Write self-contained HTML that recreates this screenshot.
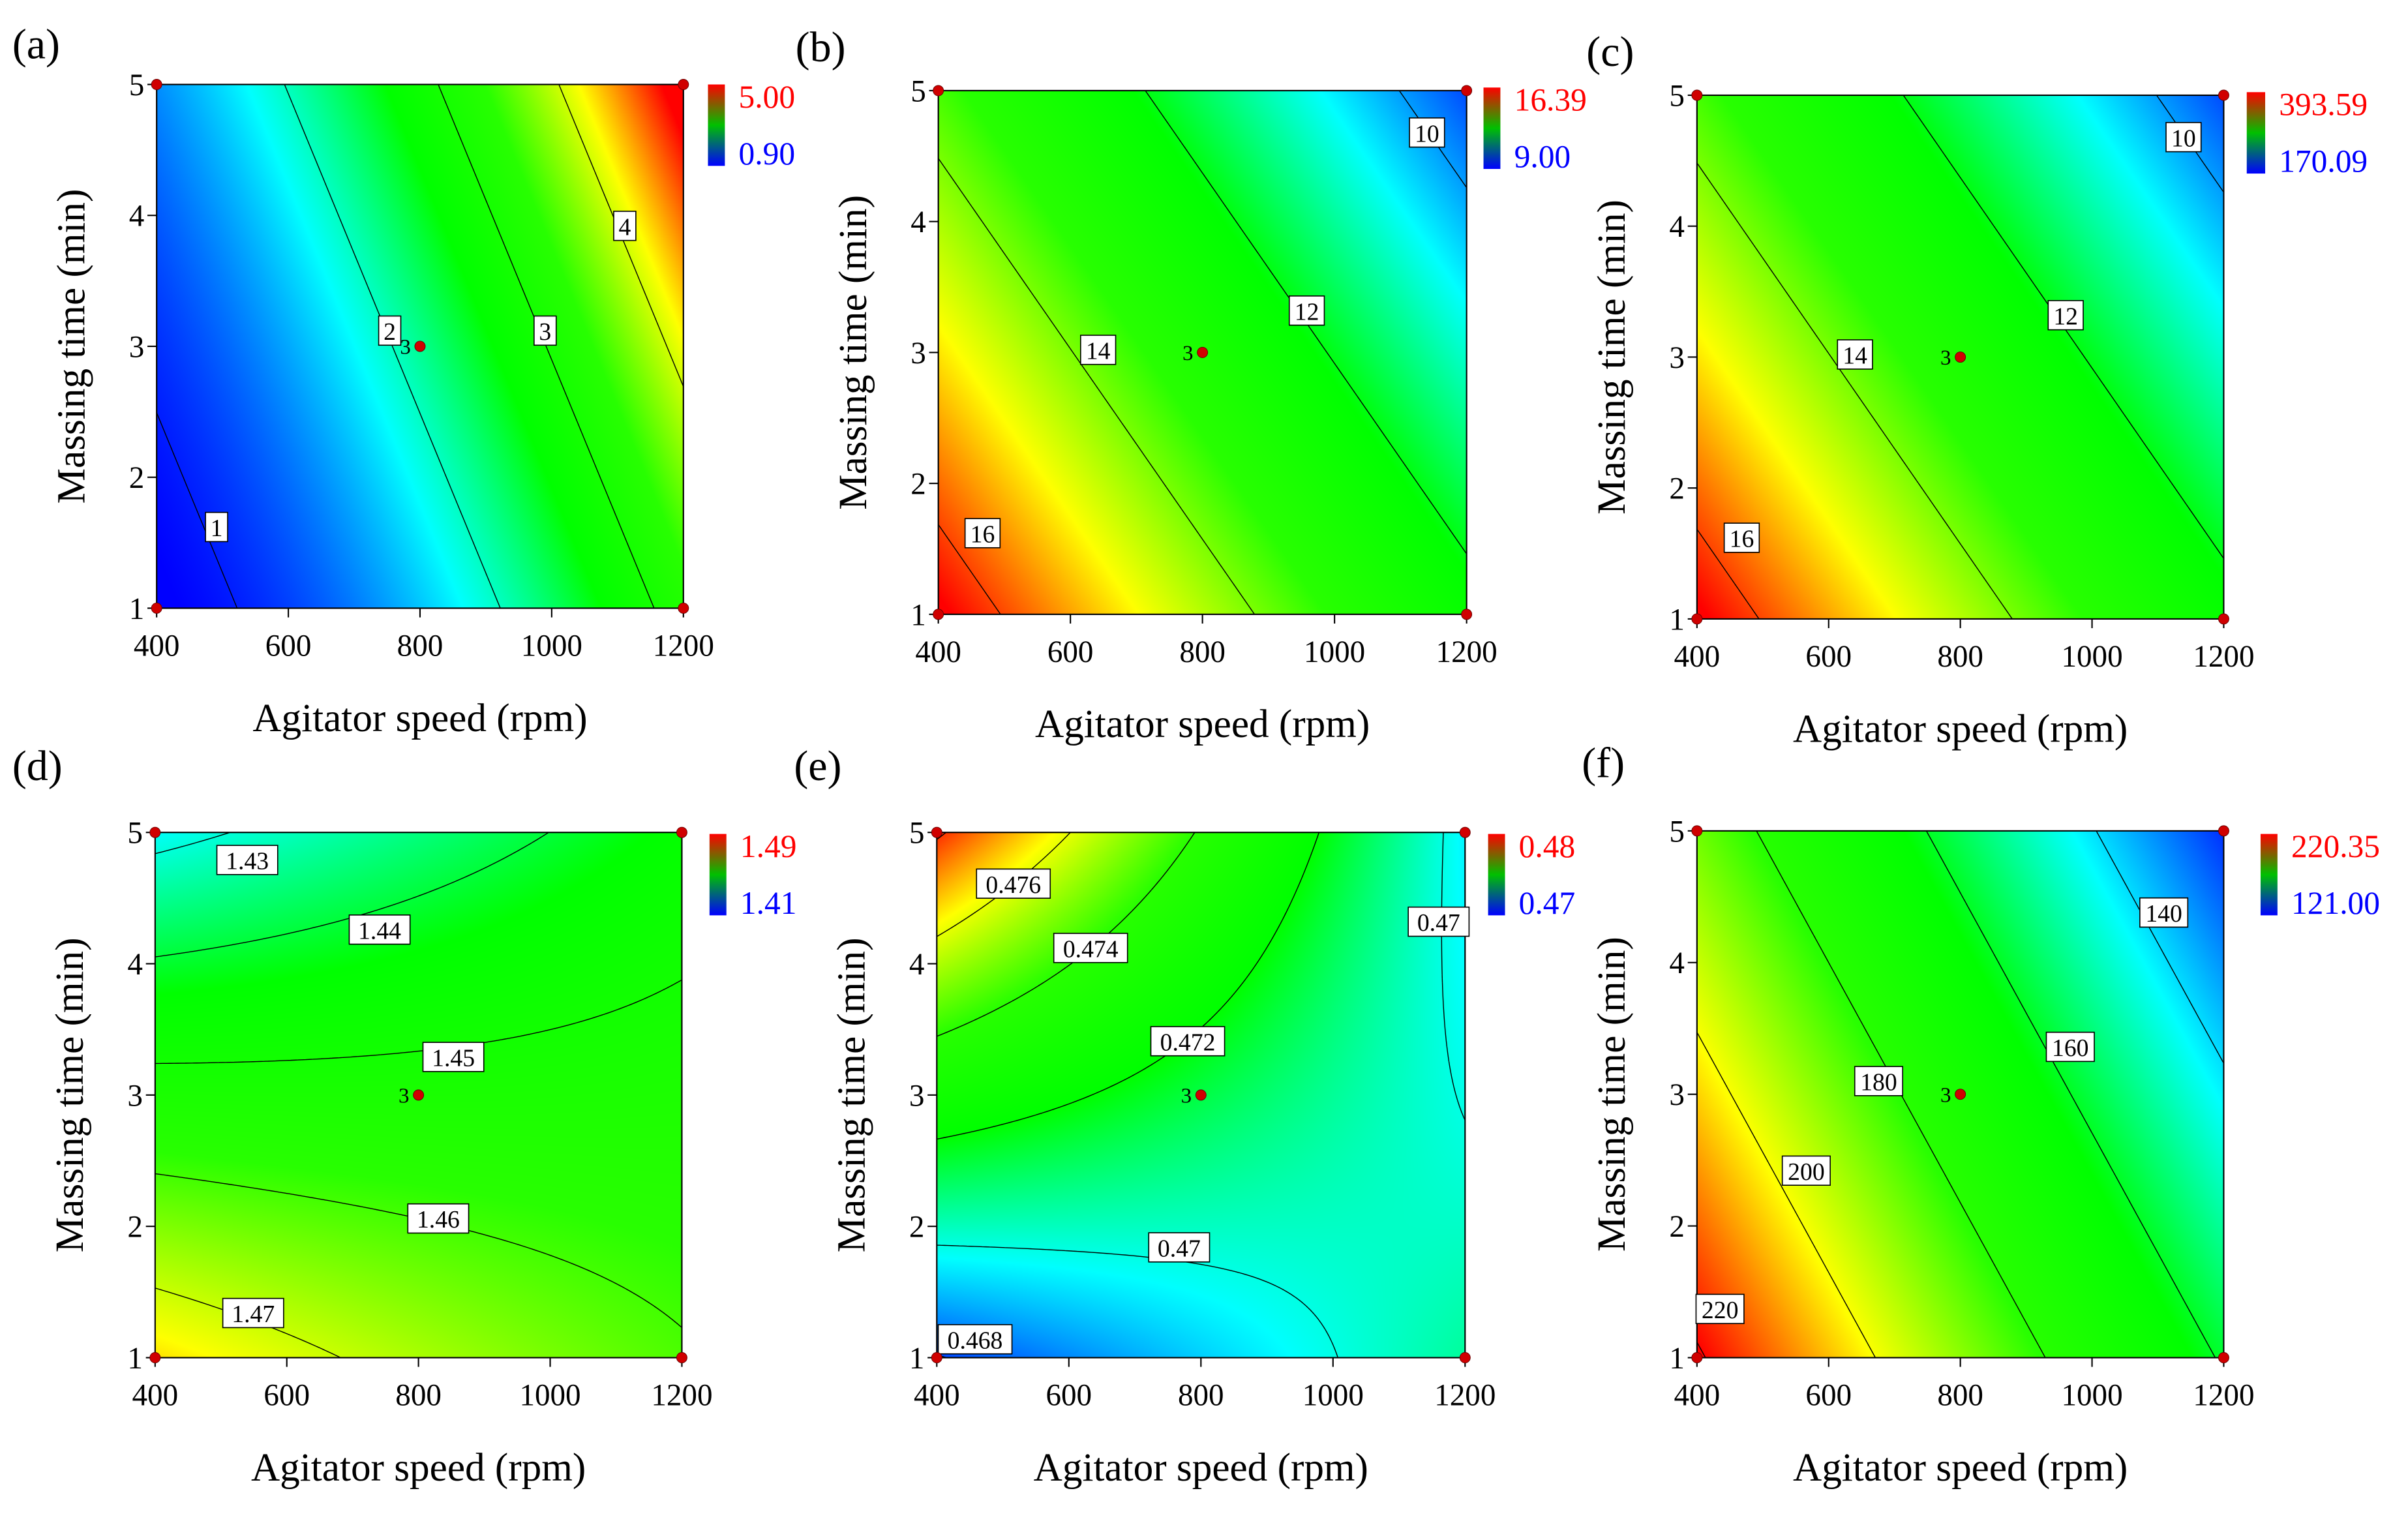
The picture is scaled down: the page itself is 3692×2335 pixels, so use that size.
<!DOCTYPE html>
<html><head><meta charset="utf-8">
<style>
html,body{margin:0;padding:0;background:#fff;}
#wrap{position:relative;width:3692px;height:2335px;overflow:hidden;}
#heat{position:absolute;left:0;top:0;}
#chart{position:absolute;left:0;top:0;font-family:"Liberation Serif",serif;}
text{font-family:"Liberation Serif",serif;}
</style></head>
<body>
<div id="wrap">
<canvas id="heat" width="3692" height="2335"></canvas>
<svg id="chart" width="3692" height="2335" viewBox="0 0 1568 991.66" preserveAspectRatio="none" font-family="Liberation Serif, serif"></svg>
</div>
<script>
// ---- data ----
const panelIds = ['a','b','c','d','e','f'];
// quadratic model coefficients in coded units: [a, bX, cY, dXY, eX2, gY2]
const coefA = [2.157, 1.545, 0.633, 0.369, 0.45, 0.0756];
const coefB = [12.98, -2.08, -1.43, 0, 0, 0];
const coefC = [12.98, -2.08, -1.43, 0, 0, 0];
const coefD = [1.4527, 0.0004, -0.016, 0.008, 0.0006, -0.001];
const coefE = [0.4714, -0.00145, 0.0023, -0.0028, 0, 0.0002];
const coefF = [173, -31, -17, 0, 0, 0];
const colorRange = [[0.9,5.0],[9,16.39],[9,16.39],[1.41,1.49],[0.4673,0.4785],[121,220.35]];
const barMaxLabels = ['5.00','16.39','393.59','1.49','0.48','220.35'];
const barMinLabels = ['0.90','9.00','170.09','1.41','0.47','121.00'];
const levelsA = [1,2,3,4];
const levelsB = [10,12,14,16];
const levelsC = [10,12,14,16];
const levelsD = [1.43,1.44,1.45,1.46,1.47];
const levelsE = [0.468,0.47,0.472,0.474,0.476,0.478];
const levelsF = [140,160,180,200,220];
// contour label anchors: [text, speed rpm, time min]
const labelsA = [['1',491,1.62],['2',754,3.12],['3',990,3.12],['4',1111,3.92]];
const labelsB = [['10',1140,4.68],['12',958,3.32],['14',642,3.02],['16',467,1.62]];
const labelsC = [['10',1139,4.68],['12',960,3.32],['14',640,3.02],['16',468,1.62]];
const labelsD = [['1.43',540,4.79],['1.44',741,4.26],['1.45',853,3.29],['1.46',830,2.06],['1.47',549,1.34]];
const labelsE = [['0.476',516,4.61],['0.474',633,4.12],['0.472',780,3.41],['0.47',767,1.84],['0.468',458,1.14],['0.47',1160,4.32]];
const labelsF = [['220',435,1.37],['200',566,2.42],['180',676,3.1],['160',967,3.36],['140',1109,4.38]];
const xTicks = [400,600,800,1000,1200];
const yTicks = [1,2,3,4,5];
const designPoints = [[400,1],[400,5],[1200,1],[1200,5],[800,3]];

// ---- layout (display units) ----
const boxes = [
 {x0:102,x1:445,y0:55,y1:396,cb:[461,472,55,108],tl:[8,38]},
 {x0:611,x1:955,y0:59,y1:400,cb:[966,977,57,110],tl:[518,40]},
 {x0:1105,x1:1448,y0:62,y1:403,cb:[1463,1475,60,113],tl:[1033,43]},
 {x0:101,x1:444,y0:542,y1:884,cb:[462,473,543,596],tl:[8,508]},
 {x0:610,x1:954,y0:542,y1:884,cb:[969,980,543,596],tl:[517,508]},
 {x0:1105,x1:1448,y0:541,y1:884,cb:[1472,1483,543,596],tl:[1030,506]}
];
const coefs=[coefA,coefB,coefC,coefD,coefE,coefF];
const levels=[levelsA,levelsB,levelsC,levelsD,levelsE,levelsF];
const labels=[labelsA,labelsB,labelsC,labelsD,labelsE,labelsF];

function field(c,X,Y){return c[0]+c[1]*X+c[2]*Y+c[3]*X*Y+c[4]*X*X+c[5]*Y*Y;}
const stopPos=[0,0.22,0.42,0.6,0.8,1];
const stopCol=[[0,0,255],[0,255,255],[0,255,0],[40,255,0],[255,255,0],[255,0,0]];
function cmap(t){
  t=Math.max(0,Math.min(1,t));
  let i=0;while(i<stopPos.length-2&&t>stopPos[i+1])i++;
  const f=(t-stopPos[i])/(stopPos[i+1]-stopPos[i]);
  return stopCol[i].map((v,k)=>Math.round(v+(stopCol[i+1][k]-v)*f));
}
const S=3692/1568;
const svg=document.getElementById('chart');
const NS='http://www.w3.org/2000/svg';
function mk(tag,attrs,parent){const e=document.createElementNS(NS,tag);for(const k in attrs)e.setAttribute(k,attrs[k]);(parent||svg).appendChild(e);return e;}
const FF='Liberation Serif, serif';

// heatmaps
const ctx=document.getElementById('heat').getContext('2d');
boxes.forEach((b,p)=>{
  const X0=Math.round(b.x0*S),X1=Math.round(b.x1*S),Y0=Math.round(b.y0*S),Y1=Math.round(b.y1*S);
  const w=X1-X0,h=Y1-Y0;const img=ctx.createImageData(w,h);const [mn,mx]=colorRange[p];
  for(let j=0;j<h;j++){const Y=1-2*j/h;for(let i=0;i<w;i++){const X=-1+2*i/w;
    const col=cmap((field(coefs[p],X,Y)-mn)/(mx-mn));const o=(j*w+i)*4;
    img.data[o]=col[0];img.data[o+1]=col[1];img.data[o+2]=col[2];img.data[o+3]=255;}}
  ctx.putImageData(img,X0,Y0);
});

boxes.forEach((b,p)=>{
  const g=mk('g',{'font-family':FF});
  
  
  const sx=v=>b.x0+(v-400)/800*(b.x1-b.x0);
  const sy=t=>b.y1-(t-1)/4*(b.y1-b.y0);
  // contours
  const N=140,c=coefs[p];
  levels[p].forEach(L=>{
    let d='';
    const val=(i,j)=>field(c,-1+2*i/N,-1+2*j/N);
    const px=i=>b.x0+i/N*(b.x1-b.x0), py=j=>b.y1-j/N*(b.y1-b.y0);
    for(let i=0;i<N;i++){for(let j=0;j<N;j++){
      const v=[val(i,j),val(i+1,j),val(i+1,j+1),val(i,j+1)];
      const pts=[[i,j],[i+1,j],[i+1,j+1],[i,j+1]];const cr=[];
      for(let k=0;k<4;k++){const a=v[k],bb=v[(k+1)%4];
        if((a<L)!==(bb<L)){const f=(L-a)/(bb-a);const A=pts[k],B=pts[(k+1)%4];
          cr.push([px(A[0]+(B[0]-A[0])*f),py(A[1]+(B[1]-A[1])*f)]);}}
      if(cr.length>=2){d+='M'+cr[0][0].toFixed(2)+' '+cr[0][1].toFixed(2)+'L'+cr[1][0].toFixed(2)+' '+cr[1][1].toFixed(2);}
      if(cr.length===4){d+='M'+cr[2][0].toFixed(2)+' '+cr[2][1].toFixed(2)+'L'+cr[3][0].toFixed(2)+' '+cr[3][1].toFixed(2);}
    }}
    if(d){const pa=mk('path',{d:d,stroke:'#000','stroke-width':0.6,fill:'none'},g);
      
      }
  });
  // frame
  const fr=mk('rect',{x:b.x0,y:b.y0,width:b.x1-b.x0,height:b.y1-b.y0,fill:'none',stroke:'#000','stroke-width':0.9},g);
  
  
  // ticks
  xTicks.forEach(v=>{
    mk('line',{x1:sx(v),x2:sx(v),y1:b.y1,y2:b.y1+6,stroke:'#000','stroke-width':0.9},g);
    const t=mk('text',{x:sx(v),y:b.y1+31,'font-size':20,'text-anchor':'middle',fill:'#000','font-family':FF},g);
    t.textContent=v;
    
    
  });
  yTicks.forEach(v=>{
    mk('line',{x1:b.x0-6,x2:b.x0,y1:sy(v),y2:sy(v),stroke:'#000','stroke-width':0.9},g);
    const t=mk('text',{x:b.x0-8,y:sy(v)+7,'font-size':20,'text-anchor':'end',fill:'#000','font-family':FF},g);
    t.textContent=v;
    
    
  });
  // axis titles
  const xt=mk('text',{x:(b.x0+b.x1)/2,y:b.y1+80,'font-size':26,'text-anchor':'middle',fill:'#000','font-family':FF},g);
  xt.textContent='Agitator speed (rpm)';
  
  
  const yc=(b.y0+b.y1)/2,yx=b.x0-47;
  const yt=mk('text',{x:yx,y:yc,'font-size':26,'text-anchor':'middle',fill:'#000','font-family':FF,transform:'rotate(-90 '+yx+' '+yc+')'},g);
  yt.textContent='Massing time (min)';
  
  
  // contour labels
  labels[p].forEach(l=>{
    const w=l[0].length*8.4+6,x=sx(l[1]),y=sy(l[2]);
    const r=mk('rect',{x:x-w/2,y:y-9.5,width:w,height:19,fill:'#fff',stroke:'#000','stroke-width':0.7},g);
    
    
    const t=mk('text',{x:x,y:y+6,'font-size':16,'text-anchor':'middle',fill:'#000','font-family':FF},g);
    t.textContent=l[0];
    
    
  });
  // design points
  designPoints.forEach(dp=>{
    const ci=mk('circle',{cx:sx(dp[0]),cy:sy(dp[1]),r:3.4,fill:'#d00000',stroke:'#600','stroke-width':0.4},g);
    
    
  });
  const ct=mk('text',{x:sx(800)-6,y:sy(3)+5,'font-size':14,'text-anchor':'end',fill:'#000','font-family':FF},g);
  ct.textContent='3';
  
  
  // colorbar
  const gid='cbg'+p;
  const defs=mk('defs',{},g);
  const lg=mk('linearGradient',{id:gid,x1:0,y1:0,x2:0,y2:1},defs);
  [['0','#ff0000'],['0.5','#00c000'],['1','#0000ff']].forEach(s=>mk('stop',{offset:s[0],'stop-color':s[1]},lg));
  const [cx0,cx1,cy0,cy1]=b.cb;
  const cb=mk('rect',{x:cx0,y:cy0,width:cx1-cx0,height:cy1-cy0,fill:'url(#'+gid+')'},g);
  
  
  const tmax=mk('text',{x:cx1+9,y:cy0+15,'font-size':21,fill:'#ff0000','font-family':FF},g);
  tmax.textContent=barMaxLabels[p];
  
  
  const tmin=mk('text',{x:cx1+9,y:cy1-1,'font-size':21,fill:'#0000ff','font-family':FF},g);
  tmin.textContent=barMinLabels[p];
  
  
  // panel tag
  const pt=mk('text',{x:b.tl[0],y:b.tl[1],'font-size':28,fill:'#000','font-family':FF},g);
  pt.textContent='('+panelIds[p]+')';
  
  
});
</script>
</body></html>
